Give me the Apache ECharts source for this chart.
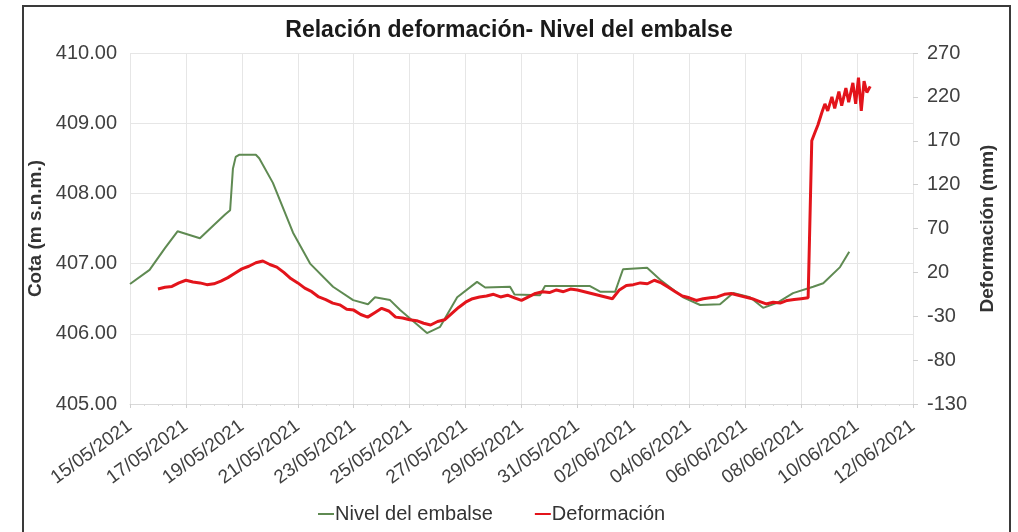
<!DOCTYPE html>
<html>
<head>
<meta charset="utf-8">
<script src="https://cdn.jsdelivr.net/npm/echarts@6/dist/echarts.min.js"></script>
<style>
html,body{margin:0;padding:0;background:#fff;}
#c{width:1018px;height:532px;}
</style>
</head>
<body>
<div id="c"></div>
<script>
// x values: days since 15/05/2021
const START_UTC = Date.UTC(2021, 4, 15);
const xTickStep = 2; // days
const xMaxDays = 28;

const levelDays = [0, 0.7, 1.25, 1.7, 2.5, 3.0, 3.4, 3.58, 3.68, 3.78, 3.9, 4.5, 4.62, 5.11, 5.83, 6.44, 7.26, 7.98, 8.51, 8.76, 9.3, 9.66, 10.62, 11.09, 11.7, 12.41, 12.7, 13.59, 13.75, 14.66, 14.84, 16.45, 16.81, 17.35, 17.63, 18.49, 18.96, 19.78, 20.39, 21.1, 21.57, 22.17, 22.64, 23.14, 23.71, 24.43, 24.79, 25.39, 25.72];
const levelValues = [406.71, 406.91, 407.22, 407.46, 407.36, 407.55, 407.70, 407.76, 408.35, 408.52, 408.55, 408.55, 408.50, 408.15, 407.44, 407.00, 406.67, 406.48, 406.42, 406.52, 406.48, 406.34, 406.01, 406.10, 406.52, 406.74, 406.66, 406.67, 406.56, 406.55, 406.68, 406.68, 406.60, 406.60, 406.92, 406.94, 406.77, 406.52, 406.41, 406.42, 406.58, 406.52, 406.37, 406.44, 406.58, 406.67, 406.72, 406.95, 407.17];

const defDays = [1.00, 1.25, 1.50, 1.75, 2.00, 2.25, 2.50, 2.75, 3.00, 3.25, 3.50, 3.75, 4.00, 4.25, 4.50, 4.75, 5.00, 5.25, 5.50, 5.75, 6.00, 6.25, 6.50, 6.75, 7.00, 7.25, 7.50, 7.75, 8.00, 8.25, 8.50, 8.75, 9.00, 9.25, 9.50, 9.75, 10.00, 10.25, 10.50, 10.75, 11.00, 11.25, 11.50, 11.75, 12.00, 12.25, 12.50, 12.75, 13.00, 13.25, 13.50, 13.75, 14.00, 14.25, 14.50, 14.75, 15.00, 15.25, 15.50, 15.75, 16.00, 16.25, 16.50, 16.75, 17.00, 17.25, 17.50, 17.75, 18.00, 18.25, 18.50, 18.75, 19.00, 19.25, 19.50, 19.75, 20.00, 20.25, 20.50, 20.75, 21.00, 21.25, 21.50, 21.75, 22.00, 22.25, 22.50, 22.75, 23.00, 23.25, 23.50, 23.75, 24.00, 24.25, 24.30, 24.38, 24.50, 24.60, 24.75, 24.85, 24.95, 25.10, 25.20, 25.35, 25.45, 25.60, 25.70, 25.85, 25.95, 26.05, 26.15, 26.25, 26.35, 26.47];
const defValues = [1, 3, 4, 8, 11, 9, 8, 6, 7, 10, 14, 19, 24, 27, 31, 33, 29, 26, 20, 13, 8, 2, -2, -8, -11, -15, -17, -22, -23, -28, -31, -26, -21, -24, -31, -32, -34, -35, -38, -40, -36, -34, -27, -20, -14, -10, -8, -7, -5, -8, -6, -9, -12, -8, -4, -2, -3, 0, -2, 1, 0, -2, -4, -6, -8, -10, 0, 5, 6, 8, 7, 11, 8, 3, -2, -7, -9, -12, -10, -9, -8, -5, -4, -6, -8, -10, -13, -16, -14, -15, -12, -11, -10, -9, -11, 170, 180, 188, 203, 212, 204, 220, 207, 226, 210, 230, 214, 236, 212, 242, 204, 238, 225, 232];

const leftTicks = { min: 405, max: 410, interval: 1 };
const rightTicks = { min: -130, max: 270, interval: 50 };

const titleText = 'Relación deformación- Nivel del embalse';
const levelName = 'Nivel del embalse';
const defName = 'Deformación';

function fmtDay(d) {
  const dt = new Date(START_UTC + d * 86400000);
  const dd = String(dt.getUTCDate()).padStart(2, '0');
  const mm = String(dt.getUTCMonth() + 1).padStart(2, '0');
  return dd + '/' + mm + '/' + dt.getUTCFullYear();
}

const FONT = '"Liberation Sans", Arial, sans-serif';
const chart = echarts.init(document.getElementById('c'), null, { renderer: 'canvas' });
chart.setOption({
  backgroundColor: '#ffffff',
  animation: false,
  title: {
    text: titleText, left: 'center', top: 14,
    textStyle: { fontFamily: FONT, fontSize: 23, fontWeight: 'bold', color: '#1a1a1a' }
  },
  graphic: [{
    type: 'rect', shape: { x: 23, y: 6, width: 987, height: 560 },
    style: { fill: 'none', stroke: '#3a3a3a', lineWidth: 2 }, silent: true, z: 100
  }],
  legend: {
    bottom: 3, left: 313, itemGap: 42, itemWidth: 16, itemHeight: 2, icon: 'rect',
    textStyle: { fontFamily: FONT, fontSize: 20, color: '#333', padding: [0, 0, 0, -4] },
    data: [levelName, defName]
  },
  grid: { left: 130, right: 105, top: 53, bottom: 128 },
  xAxis: {
    type: 'value', min: 0, max: xMaxDays, interval: xTickStep,
    axisLine: { show: true, onZero: false, lineStyle: { color: '#d9d9d9' } },
    axisTick: { show: true, length: 4, lineStyle: { color: '#cfcfcf' } },
    minorTick: { show: true, splitNumber: 4, length: 2, lineStyle: { color: '#d9d9d9' } },
    splitLine: { show: true, lineStyle: { color: '#e6e6e6' } },
    axisLabel: { rotate: 36, margin: 20, fontFamily: FONT, fontSize: 19, color: '#404040', formatter: fmtDay }
  },
  yAxis: [{
    type: 'value', position: 'left', min: leftTicks.min, max: leftTicks.max, interval: leftTicks.interval,
    name: 'Cota (m s.n.m.)', nameLocation: 'middle', nameGap: 75,
    nameTextStyle: { fontFamily: FONT, fontSize: 19, fontWeight: 'bold', color: '#333' },
    axisLine: { show: false }, axisTick: { show: false },
    splitLine: { show: true, lineStyle: { color: '#e6e6e6' } },
    axisLabel: { margin: 13, fontFamily: FONT, fontSize: 20, color: '#404040', formatter: v => v.toFixed(2) }
  }, {
    type: 'value', position: 'right', min: rightTicks.min, max: rightTicks.max, interval: rightTicks.interval,
    name: 'Deformación (mm)', nameLocation: 'middle', nameGap: 56,
    nameTextStyle: { fontFamily: FONT, fontSize: 19, fontWeight: 'bold', color: '#333' },
    axisLine: { show: false }, axisTick: { show: true, length: 5, lineStyle: { color: '#d0d0d0' } },
    splitLine: { show: false },
    axisLabel: { margin: 14, fontFamily: FONT, fontSize: 20, color: '#404040' }
  }],
  series: [{
    name: levelName, type: 'line', yAxisIndex: 0, showSymbol: false, symbol: 'none',
    lineStyle: { color: '#5f8a52', width: 2 }, itemStyle: { color: '#5f8a52' },
    data: levelDays.map((d, i) => [d, levelValues[i]]), z: 2
  }, {
    name: defName, type: 'line', yAxisIndex: 1, showSymbol: false, symbol: 'none',
    lineStyle: { color: '#e3141b', width: 3 }, itemStyle: { color: '#e3141b' },
    data: defDays.map((d, i) => [d, defValues[i]]), z: 3
  }]
});
</script>
</body>
</html>
